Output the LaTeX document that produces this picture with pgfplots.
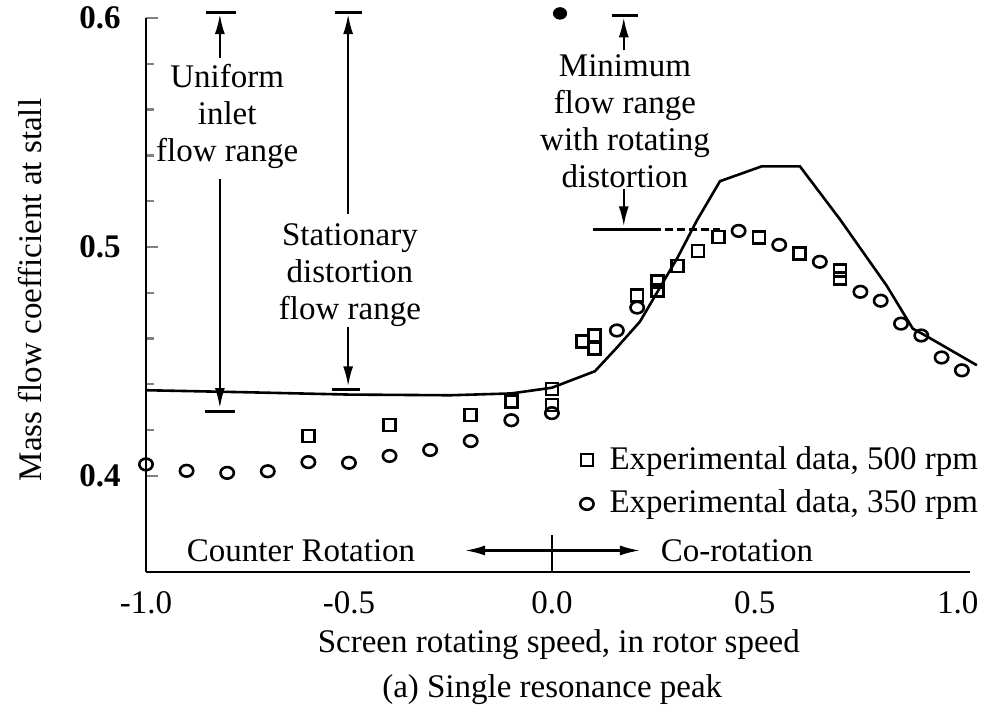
\documentclass[border=0pt]{standalone}
\usepackage{fontspec}
\setmainfont{Liberation Serif}
\usepackage{pgfplots}
\pgfplotsset{compat=1.18}
\usetikzlibrary{arrows.meta}
\begin{document}
\fontsize{16.5}{18.5}\selectfont
\begin{tikzpicture}
\path[use as bounding box] (-73pt,-72pt) rectangle (420pt,286pt);
\begin{axis}[
  at={(0,0)}, anchor=south west,
  scale only axis, width=412pt, height=277pt,
  xmin=-1.0, xmax=1.03, ymin=0.358, ymax=0.6,
  clip=false,
  axis x line*=bottom, axis y line*=left,
  axis line style={line width=1.4pt},
  xtick={-1,-0.5,0,0.5,1}, xticklabels={-1.0,-0.5,0.0,0.5,1.0},
  ytick={0.4,0.5,0.6}, yticklabels={0.4,0.5,0.6},
  minor y tick num=4,
  tick align=inside,
  xtick style={draw=none},
  ytick style={line width=1.2pt},
  major tick length=6pt, minor tick length=4pt,
  /pgf/number format/assume math mode=true,
  yticklabel style={font=\bfseries, xshift=-7pt},
  xticklabel style={yshift=-4pt},
  xlabel={Screen rotating speed, in rotor speed},
  ylabel={Mass flow coefficient at stall},
  xlabel style={at={(rel axis cs:0.501,0)}, anchor=center, yshift=-36.5pt},
  ylabel style={at={(rel axis cs:-0.141,0.509)}, anchor=center},
  legend style={draw=none, fill=none, at={(rel axis cs:1.015,0.235)}, anchor=north east, row sep=4pt, inner sep=0pt, nodes={inner sep=2pt},
    /tikz/every odd column/.style={column sep=6pt}},
  legend cell align=left,
]
% model curve
\addplot[black, line width=1.3pt, forget plot] coordinates {
(-1.0,0.4374) (-0.75,0.4365) (-0.5,0.4355) (-0.25,0.4352) (-0.1,0.4360)
(0.0,0.4385) (0.106,0.4457) (0.16,0.4560) (0.217,0.4674) (0.31,0.4955)
(0.357,0.5115) (0.414,0.5287) (0.517,0.5352) (0.611,0.5352) (0.709,0.5122)
(0.825,0.4830) (0.889,0.4643) (0.924,0.4609) (1.047,0.4483)
};
% 500 rpm squares
\addplot[only marks, mark=square, mark size=3pt, mark options={line width=1.3pt, black}] coordinates {
(-0.6,0.4174) (-0.4,0.4222) (-0.2,0.4265) (-0.1,0.4326) (0.0,0.4380) (0.0,0.4310)
(0.075,0.4587) (0.105,0.4613) (0.105,0.4557) (0.21,0.4787) (0.26,0.4848) (0.26,0.4809)
(0.31,0.4917) (0.36,0.4983) (0.41,0.5043) (0.51,0.5040) (0.61,0.4970) (0.71,0.4896) (0.71,0.4861)
};
\addlegendentry{Experimental data, 500 rpm}
% 350 rpm circles
\addplot[only marks, mark=o, mark size=2.9pt, mark options={line width=1.3pt, black, xscale=1.15}] coordinates {
(-1.0,0.4050) (-0.9,0.4022) (-0.8,0.4013) (-0.7,0.4020) (-0.6,0.4060) (-0.5,0.4057)
(-0.4,0.4087) (-0.3,0.4113) (-0.2,0.4152) (-0.1,0.4243) (0.0,0.4274) (0.16,0.4635)
(0.21,0.4735) (0.46,0.5070) (0.56,0.5009) (0.66,0.4935) (0.76,0.4804) (0.81,0.4765)
(0.86,0.4665) (0.91,0.4613) (0.96,0.4517) (1.01,0.4461)
};
\addlegendentry{Experimental data, 350 rpm}
\addplot[only marks, mark=*, mark size=2.9pt, mark options={black, xscale=1.15}, forget plot] coordinates {(0.02,0.602)};

% Uniform inlet flow range
\draw[line width=1.1pt, -{Latex[length=10pt,width=5pt]}] (axis cs:-0.818,0.5826) -- (axis cs:-0.818,0.6017);
\draw[line width=1.5pt] (axis cs:-0.851,0.6026) -- (axis cs:-0.778,0.6026);
\node[align=center] at (axis cs:-0.80,0.557) {Uniform\\inlet\\flow range};
\draw[line width=1.1pt, -{Latex[length=10pt,width=5pt]}] (axis cs:-0.818,0.5296) -- (axis cs:-0.818,0.4296);
\draw[line width=1.5pt] (axis cs:-0.855,0.4283) -- (axis cs:-0.781,0.4283);

% Stationary distortion flow range
\draw[line width=1.1pt, -{Latex[length=10pt,width=5pt]}] (axis cs:-0.502,0.5143) -- (axis cs:-0.502,0.6017);
\draw[line width=1.5pt] (axis cs:-0.535,0.6026) -- (axis cs:-0.469,0.6026);
\node[align=center] at (axis cs:-0.4975,0.4878) {Stationary\\distortion\\flow range};
\draw[line width=1.1pt, -{Latex[length=10pt,width=5pt]}] (axis cs:-0.502,0.4652) -- (axis cs:-0.502,0.4391);
\draw[line width=1.5pt] (axis cs:-0.541,0.4378) -- (axis cs:-0.473,0.4378);

% Minimum flow range
\draw[line width=1.1pt, -{Latex[length=10pt,width=5pt]}] (axis cs:0.177,0.586) -- (axis cs:0.177,0.6003);
\draw[line width=1.5pt] (axis cs:0.148,0.6013) -- (axis cs:0.212,0.6013);
\node[align=center] at (axis cs:0.18,0.555) {Minimum\\flow range\\with rotating\\distortion};
\draw[line width=1.1pt, -{Latex[length=10pt,width=5pt]}] (axis cs:0.177,0.5252) -- (axis cs:0.177,0.5090);
\draw[line width=1.5pt] (axis cs:0.101,0.5078) -- (axis cs:0.25,0.5078);
\draw[line width=1.5pt, dash pattern=on 4pt off 2pt] (axis cs:0.25,0.5078) -- (axis cs:0.414,0.5078);

% Counter / Co-rotation
\node at (axis cs:-0.618,0.3674) {Counter Rotation};
\node at (axis cs:0.456,0.3674) {Co-rotation};
\draw[line width=1.1pt, -{Latex[length=10pt,width=5pt]}] (axis cs:0,0.3674) -- (axis cs:-0.214,0.3674);
\draw[line width=1.1pt, -{Latex[length=10pt,width=5pt]}] (axis cs:0,0.3674) -- (axis cs:0.217,0.3674);
\draw[line width=1.1pt] (axis cs:0,0.358) -- (axis cs:0,0.3743);

% caption
\node at (rel axis cs:0.493,0) [yshift=-59pt] {(a) Single resonance peak};
\end{axis}
\end{tikzpicture}
\end{document}
